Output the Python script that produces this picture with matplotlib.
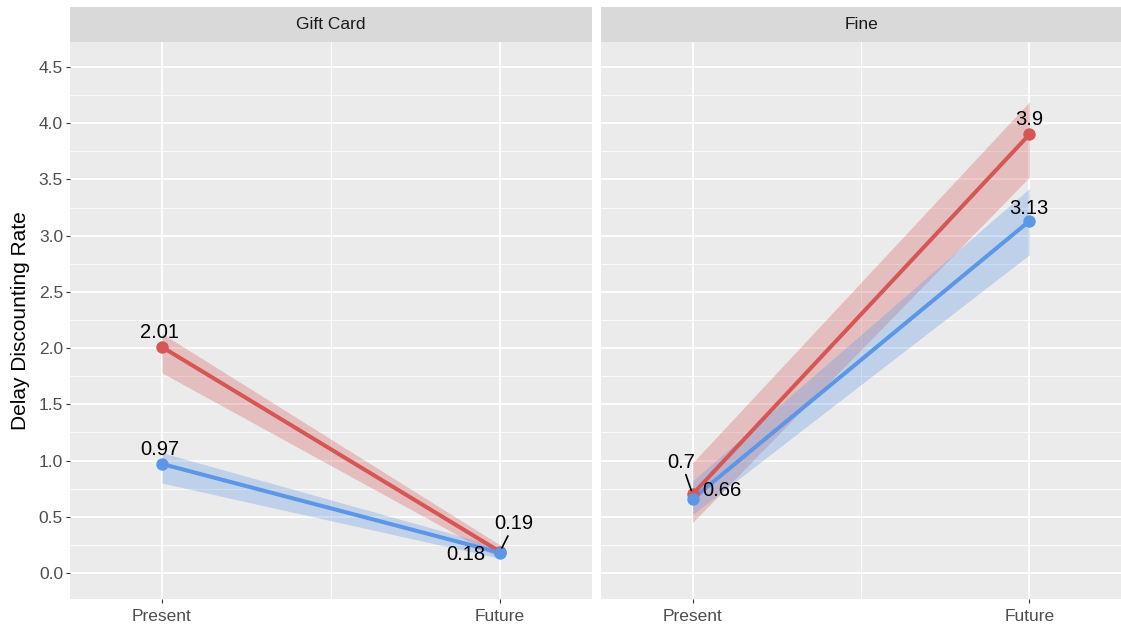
import matplotlib
matplotlib.use("Agg")
import matplotlib.pyplot as plt

plt.rcParams['font.family'] = ['Liberation Sans', 'DejaVu Sans']

# facets and time points
panels = ['Gift Card', 'Fine']
times = ['Present', 'Future']
time_pos = [1, 2]

# group means per facet (Present, Future)
red_mean = [[2.01, 0.19], [0.70, 3.90]]
blue_mean = [[0.97, 0.18], [0.66, 3.13]]

# confidence band edges per facet (Present, Future)
red_lo = [[1.78, 0.13], [0.45, 3.52]]
red_hi = [[2.13, 0.25], [0.98, 4.19]]
blue_lo = [[0.80, 0.13], [0.52, 2.83]]
blue_hi = [[1.07, 0.23], [0.82, 3.42]]

y_ticks = [0.0, 0.5, 1.0, 1.5, 2.0, 2.5, 3.0, 3.5, 4.0, 4.5]

RED = '#D65656'
BLUE = '#5B97E6'
PANEL_BG = '#EBEBEB'
STRIP_BG = '#D9D9D9'

# label offsets in pixels (dx, dy) for each point: [facet][series][time]
label_offsets = {
    (0, 'red', 0): (-2, 14), (0, 'red', 1): (14, 28),
    (0, 'blue', 0): (-2, 14), (0, 'blue', 1): (-34, -2),
    (1, 'red', 0): (-11, 32), (1, 'red', 1): (0, 15),
    (1, 'blue', 0): (29, 8), (1, 'blue', 1): (-1, 13),
}
with_segment = {(0, 'red', 1), (1, 'red', 0)}

W, H = 1121, 628
fig = plt.figure(figsize=(W / 100, H / 100), dpi=100)

panel_x = [(70, 592), (601, 1121)]
panel_top, panel_bottom = 42, 599
strip_top = 7

for i, name in enumerate(panels):
    x0, x1 = panel_x[i]
    ax = fig.add_axes([x0 / W, (H - panel_bottom) / H, (x1 - x0) / W,
                       (panel_bottom - panel_top) / H])
    ax.set_facecolor(PANEL_BG)
    for s in ax.spines.values():
        s.set_visible(False)
    ax.set_xlim(0.728, 2.272)
    ax.set_ylim(-0.231, 4.722)

    # grid
    for y in y_ticks:
        ax.axhline(y, color='white', lw=1.3, zorder=0)
        if y + 0.25 < 4.72:
            ax.axhline(y + 0.25, color='white', lw=0.6, zorder=0)
    for x in time_pos:
        ax.axvline(x, color='white', lw=1.3, zorder=0)
    ax.axvline(1.5, color='white', lw=0.6, zorder=0)

    series = [('red', RED, red_mean, red_lo, red_hi),
              ('blue', BLUE, blue_mean, blue_lo, blue_hi)]
    for key, col, mean, lo, hi in series:
        ax.fill_between(time_pos, lo[i], hi[i], color=col, alpha=0.3, lw=0, zorder=1)
    for key, col, mean, lo, hi in series:
        ax.plot(time_pos, mean[i], color=col, lw=2.9, solid_capstyle='butt', zorder=2)
        ax.scatter(time_pos, mean[i], color=col, s=80, zorder=3, lw=0)
    for key, col, mean, lo, hi in series:
        for t in range(2):
            v = mean[i][t]
            dx, dy = label_offsets[(i, key, t)]
            props = None
            if (i, key, t) in with_segment:
                props = dict(arrowstyle='-', color='black', lw=1.2,
                             shrinkA=0, shrinkB=3)
            ax.annotate(f"{v:g}", (time_pos[t], v), xytext=(dx, dy),
                        textcoords='offset pixels', ha='center', va='center',
                        fontsize=14.5, color='black', zorder=4,
                        arrowprops=props)

    ax.set_xticks(time_pos)
    ax.set_xticklabels(times)
    ax.set_yticks(y_ticks)
    ax.tick_params(axis='both', length=3, width=0.8, color='#333333',
                   labelsize=12.5, labelcolor='#4D4D4D', pad=2)
    ax.tick_params(axis='x', pad=4)
    if i == 0:
        ax.set_yticklabels([f"{y:.1f}" for y in y_ticks])
        ax.set_ylabel('Delay Discounting Rate', fontsize=15, color='black', labelpad=6)
    else:
        ax.set_yticklabels([])
        ax.tick_params(axis='y', length=0)

    # facet strip
    sax = fig.add_axes([x0 / W, (H - panel_top) / H, (x1 - x0) / W,
                        (panel_top - strip_top) / H])
    sax.set_facecolor(STRIP_BG)
    sax.set_xticks([])
    sax.set_yticks([])
    for s in sax.spines.values():
        s.set_visible(False)
    sax.text(0.5, 0.5, name, ha='center', va='center', fontsize=12.5,
             color='#1A1A1A', transform=sax.transAxes)

fig.savefig('out.png', dpi=100, facecolor='white')
